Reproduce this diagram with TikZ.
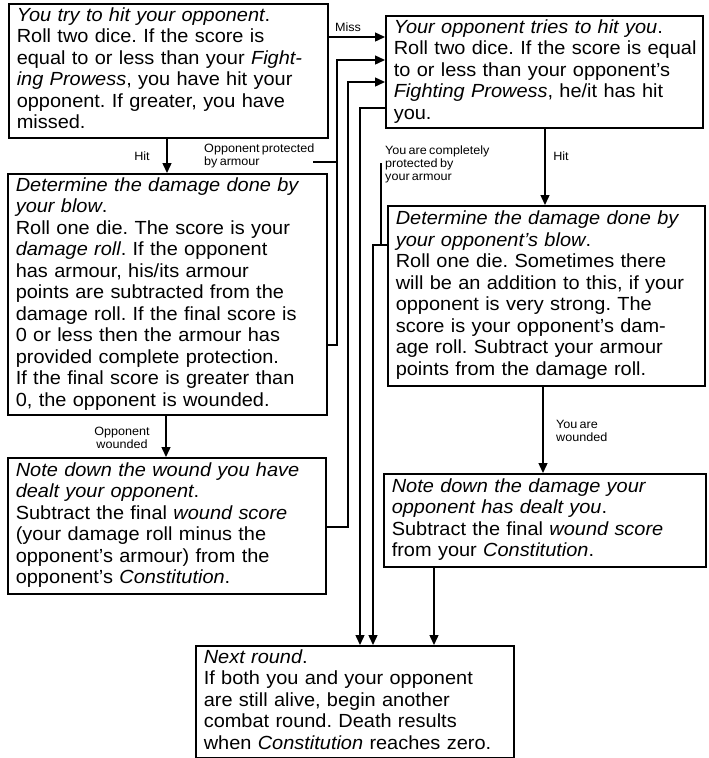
\documentclass[tikz,border=0pt]{standalone}
\usepackage{fontspec}
\newfontfamily\boxfont[FakeStretch=1.05,WordSpace=0.65]{Liberation Sans}
\usetikzlibrary{arrows.meta}
\newcommand\boxlines[1]{\begin{tabular}{@{}l@{}}#1\end{tabular}}
\tikzset{
  box/.style={draw, line width=1.6pt, anchor=north west, inner xsep=8pt, inner ysep=0pt,
    align=left, font=\boxfont\fontsize{19pt}{21.5pt}\selectfont\frenchspacing},
  conn/.style={line width=1.4pt},
  arr/.style={conn, -{Triangle[length=10pt,width=9pt]}},
  lbl/.style={inner sep=0pt, font=\boxfont\fontsize{12pt}{13pt}\selectfont},
}
\begin{document}
\begin{tikzpicture}[x=1pt,y=-1pt]
\fill[white] (0,0) rectangle (709,758);
\useasboundingbox (0,0) rectangle (709,758);

% boxes
\node[box, minimum width=319pt, minimum height=134pt, text width=303pt] (A) at (8,3)
{\boxlines{\textit{You try to hit your opponent}.\\
Roll two dice. If the score is\\
equal to or less than your \textit{Fight-}\\
\textit{ing Prowess}, you have hit your\\
opponent. If greater, you have\\
missed.}};

\node[box, minimum width=319pt, minimum height=241pt, text width=303pt] (C) at (7,173)
{\boxlines{\textit{Determine the damage done by}\\
\textit{your blow}.\\
Roll one die. The score is your\\
\textit{damage roll}. If the opponent\\
has armour, his/its armour\\
points are subtracted from the\\
damage roll. If the final score is\\
0 or less then the armour has\\
provided complete protection.\\
If the final score is greater than\\
0, the opponent is wounded.}};

\node[box, minimum width=318pt, minimum height=136pt, text width=302pt] (F) at (7,457)
{\boxlines{\textit{Note down the wound you have}\\
\textit{dealt your opponent}.\\
Subtract the final \textit{wound score}\\
(your damage roll minus the\\
opponent’s armour) from the\\
opponent’s \textit{Constitution}.}};

\node[box, minimum width=317pt, minimum height=112pt, text width=301pt] (B) at (385,15)
{\boxlines{\textit{Your opponent tries to hit you}.\\
Roll two dice. If the score is equal\\
to or less than your opponent’s\\
\textit{Fighting Prowess}, he/it has hit\\
you.}};

\node[box, minimum width=317pt, minimum height=180pt, text width=301pt] (D) at (387,205)
{\boxlines{\textit{Determine the damage done by}\\
\textit{your opponent’s blow}.\\
Roll one die. Sometimes there\\
will be an addition to this, if your\\
opponent is very strong. The\\
score is your opponent’s dam-\\
age roll. Subtract your armour\\
points from the damage roll.}};

\node[box, minimum width=322pt, minimum height=93pt, text width=306pt] (D2) at (383,473)
{\boxlines{\textit{Note down the damage your}\\
\textit{opponent has dealt you}.\\
Subtract the final \textit{wound score}\\
from your \textit{Constitution}.}};

\node[box, minimum width=318pt, minimum height=112pt, text width=302pt] (E) at (195,645)
{\boxlines{\textit{Next round}.\\
If both you and your opponent\\
are still alive, begin another\\
combat round. Death results\\
when \textit{Constitution} reaches zero.}};

% helper coordinates
\coordinate (missY) at (0,37);
\coordinate (hitL) at (167,0);
\coordinate (woundL) at (166,0);
\coordinate (hitR) at (545,0);
\coordinate (woundR) at (543,0);
\coordinate (pLow) at (337,345);
\coordinate (pHigh) at (337,60);
\coordinate (pTick) at (313,162);
\coordinate (wLow) at (348,527);
\coordinate (wHigh) at (348,82);
\coordinate (rTop) at (360,108);
\coordinate (cpTop) at (373,245);
\coordinate (cpTick) at (381,163);
\coordinate (dX) at (434,0);

% connectors
\draw[arr] (A.east |- missY) -- (B.west |- missY);
\draw[arr] (A.south -| hitL) -- (C.north -| hitL);
\draw[arr] (C.south -| woundL) -- (F.north -| woundL);
\draw[arr] (B.south -| hitR) -- (D.north -| hitR);
\draw[arr] (D.south -| woundR) -- (D2.north -| woundR);
\draw[arr] (C.east |- pLow) -- (pLow) -- (pHigh) -- (B.west |- pHigh);
\draw[conn] (pTick) -- (pTick -| pLow);
\draw[arr] (F.east |- wLow) -- (wLow) -- (wHigh) -- (B.west |- wHigh);
\draw[arr] (B.west |- rTop) -- (rTop) -- (E.north -| rTop);
\draw[arr] (D.west |- cpTop) -- (cpTop) -- (E.north -| cpTop);
\draw[conn] (cpTick) -- (cpTick |- cpTop);
\draw[arr] (D2.south -| dX) -- (E.north -| dX);

% labels
\node[lbl] (lMiss) at (348,27) {Miss};
\node[lbl] (lHit1) at (142,156) {Hit};
\node[lbl, anchor=west, align=left] (lProt) at (204,156) {Opponent protected\\by armour};
\node[lbl, anchor=north west, align=left] (lComp) at (385,146) {You are completely\\protected by\\your armour};
\node[lbl] (lHit2) at (561,156) {Hit};
\node[lbl, align=center] (lWound1) at (122,438) {Opponent\\wounded};
\node[lbl, anchor=west, align=left] (lWound2) at (556,431) {You are\\wounded};
\end{tikzpicture}
\end{document}
